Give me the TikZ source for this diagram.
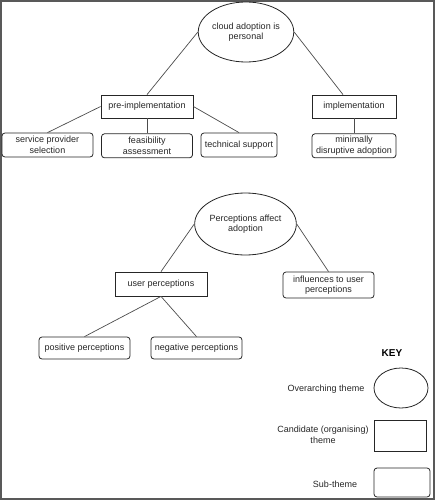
\documentclass[tikz,border=0pt]{standalone}
\usepackage{fontspec}
\setmainfont{Liberation Sans}
\usetikzlibrary{positioning,shapes.geometric}
\tikzset{%
   theme/.style={ellipse, draw=black!85, line width=.8pt, inner sep=0pt, align=center,
      minimum width=92pt, minimum height=60pt},
   cand/.style={rectangle, draw=black!85, line width=.8pt, inner sep=1pt, align=center,
      minimum width=92pt, minimum height=23pt},
   sub/.style={cand, rounded corners=3pt, minimum height=24pt},
   link/.style={draw=black!70, line width=.7pt},
}

\begin{document}
\begin{tikzpicture}[x=1pt, y=-1pt, font=\fontsize{9}{10.5}\selectfont, text=black!85]
   \useasboundingbox (0,0) rectangle (435,500);
   \draw[gray!70!black, line width=1.5pt] (1,1) rectangle (434,499);
   % first theme
   \node[theme] (cloud) at (246,32) {cloud adoption is\\personal};
   \node[cand] (pre) at (147,106.5) {pre-implementation};
   \node[cand, minimum width=84pt] (impl) at (354,106.5) {implementation};
   \node[sub, minimum width=91pt] (sps) at (47.5,145) {service provider\\selection};
   \node[sub, minimum width=91pt, below=15pt of pre] (feas) {feasibility\\assessment};
   \node[sub, minimum width=76pt] (tech) at (239,145) {technical support};
   \node[sub, minimum width=84pt, below=15pt of impl] (minim) {minimally\\disruptive adoption};
   \path[link] (cloud.west) edge (pre.north);
   \path[link] (cloud.east) edge ([xshift=-11pt]impl.north);
   \path[link] (pre.west) edge (sps.north);
   \path[link] (pre) edge (feas);
   \path[link] (pre.east) edge (tech.north);
   \path[link] (impl) edge (minim);
   % second theme
   \node[theme, minimum width=93pt, minimum height=62pt] (perc) at (245.5,224) {Perceptions affect\\adoption};
   \node[cand, minimum height=24pt] (user) at (161,284) {user perceptions};
   \node[sub, minimum width=91pt, minimum height=26pt] (infl) at (328.5,285) {influences to user\\perceptions};
   \node[sub, minimum width=91pt, minimum height=22pt] (pos) at (84.5,348) {positive perceptions};
   \node[sub, minimum width=91pt, minimum height=22pt] (neg) at (196.5,348) {negative perceptions};
   \path[link] (perc.west) edge (user.north);
   \path[link] (perc.east) edge (infl.north);
   \path[link] (user.south) edge (pos.north);
   \path[link] (user.south) edge (neg.north);
   % key
   \node[font=\fontsize{10}{12}\selectfont\bfseries, text=black] (key) at (392,353) {KEY};
   \node[theme, minimum width=54pt, minimum height=40pt] (ktheme) at (401,388) {};
   \node[cand, minimum width=52pt, minimum height=31pt] (kcand) at (400,435.5) {};
   \node[sub, minimum width=56pt, minimum height=29pt] (ksub) at (402,482.5) {};
   \node (ltheme) at (326,389) {Overarching theme};
   \node[align=center] (lcand) at (323,435) {Candidate (organising)\\theme};
   \node (lsub) at (335,484) {Sub-theme};
\end{tikzpicture}
\end{document}
